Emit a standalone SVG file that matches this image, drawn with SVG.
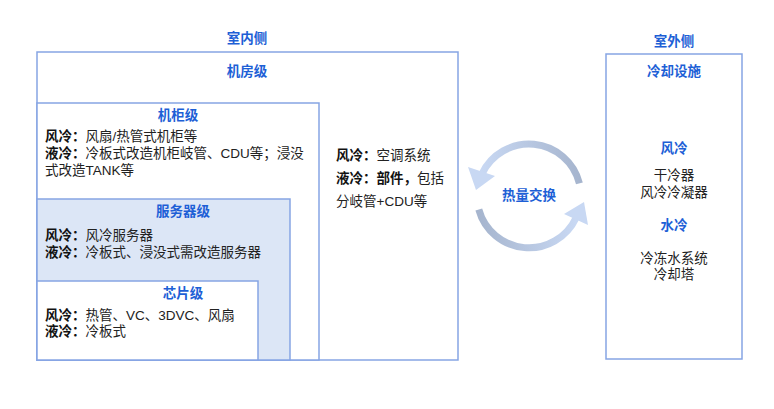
<svg xmlns="http://www.w3.org/2000/svg" width="774" height="409" viewBox="0 0 774 409">
<style>
text{font-family:"Liberation Sans","Noto Sans CJK SC",sans-serif;}
.h{font-size:13.5px;font-weight:bold;fill:#1d5fd6;text-anchor:middle;}
.b{font-size:13.5px;fill:#222;}
.c{font-size:13.5px;fill:#222;text-anchor:middle;}
.k{font-weight:bold;fill:#111;}
.box{stroke:#86a5e4;stroke-width:1.5;fill:#fff;}
.arc{fill:none;stroke-width:7;stroke-linecap:butt;}
</style>
<defs>
<linearGradient id="g1" x1="1" y1="0" x2="0" y2="0">
<stop offset="0" stop-color="#a6b5ce"/><stop offset="1" stop-color="#c8d8f3"/>
</linearGradient>
<linearGradient id="g2" x1="0" y1="0" x2="1" y2="0">
<stop offset="0" stop-color="#a6b5ce"/><stop offset="1" stop-color="#c8d8f3"/>
</linearGradient>
</defs>
<rect width="774" height="409" fill="#fff"/>
<text class="h" x="247" y="42.5">室内侧</text>
<g id="room">
<rect class="box" x="37" y="52" width="421" height="308"/>
<text class="h" x="247" y="76">机房级</text>
<text class="b" x="336" y="160"><tspan class="k">风冷：</tspan>空调系统</text>
<text class="b" x="336" y="183"><tspan class="k">液冷：部件，</tspan>包括</text>
<text class="b" x="336" y="206">分岐管+CDU等</text>
</g>
<g id="rack">
<rect class="box" x="37" y="103" width="282" height="257"/>
<text class="h" x="178" y="120">机柜级</text>
<text class="b" x="45" y="141"><tspan class="k">风冷：</tspan>风扇/热管式机柜等</text>
<text class="b" x="45" y="158"><tspan class="k">液冷：</tspan>冷板式改造机柜岐管、CDU等；浸没</text>
<text class="b" x="45" y="175">式改造TANK等</text>
</g>
<g id="server">
<rect class="box" x="37" y="199" width="253" height="161" style="fill:#dce6f6"/>
<text class="h" x="183" y="216">服务器级</text>
<text class="b" x="45" y="240"><tspan class="k">风冷：</tspan>风冷服务器</text>
<text class="b" x="45" y="257"><tspan class="k">液冷：</tspan>冷板式、浸没式需改造服务器</text>
</g>
<g id="chip">
<rect class="box" x="37" y="281" width="221" height="79"/>
<text class="h" x="183" y="298">芯片级</text>
<text class="b" x="45" y="320"><tspan class="k">风冷：</tspan>热管、VC、3DVC、风扇</text>
<text class="b" x="45" y="336"><tspan class="k">液冷：</tspan>冷板式</text>
</g>
<text class="h" x="674" y="46">室外侧</text>
<g id="outdoor">
<rect class="box" x="606" y="54" width="136" height="305"/>
<text class="h" x="674" y="76">冷却设施</text>
<text class="h" x="674" y="153">风冷</text>
<text class="c" x="674" y="180">干冷器</text>
<text class="c" x="674" y="197">风冷冷凝器</text>
<text class="h" x="674" y="230">水冷</text>
<text class="c" x="674" y="263">冷冻水系统</text>
<text class="c" x="674" y="279">冷却塔</text>
</g>
<g id="connectors">
<path class="arc" stroke="url(#g1)" d="M 579.4 183.4 A 52 52 0 0 0 481.9 174"/>
<polygon points="468,167 495,176 476,190" fill="#c8d8f3"/>
<path class="arc" stroke="url(#g2)" d="M 478.8 209.5 A 52 52 0 0 0 576 218"/>
<polygon points="564,214 588,225 584,202" fill="#c8d8f3"/>
</g>
<g id="exchange">
<text class="h" x="529" y="200">热量交换</text>
</g>
</svg>
